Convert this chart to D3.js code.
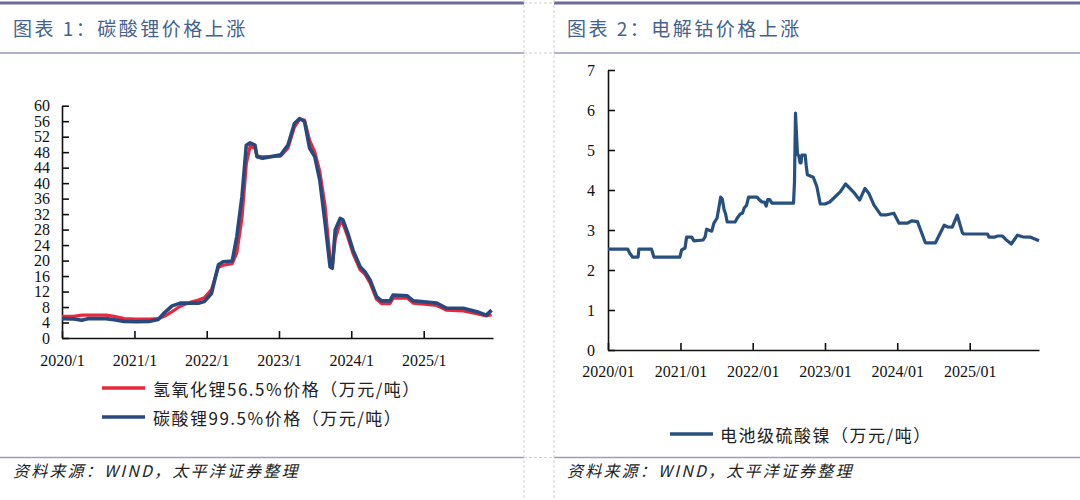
<!DOCTYPE html>
<html lang="zh">
<head>
<meta charset="UTF-8">
<title>碳酸锂 / 电解钴价格</title>
<script src="https://cdn.jsdelivr.net/npm/d3@7"></script>
<style>
  body { margin: 0; background: #fff; }
  svg { display: block; }
  .axis text { font-family: "Liberation Serif", "DejaVu Serif", serif; font-size: 16px; fill: #111; }
  .axis path, .axis line { stroke: #111; stroke-width: 1.6; }
  .title { font-family: "Noto Sans CJK SC", sans-serif; font-size: 19px; fill: #44628c; letter-spacing: 2.5px; }
  .legend { font-family: "Noto Sans CJK SC", sans-serif; font-size: 17px; fill: #222; letter-spacing: 1.5px; }
  .source { font-family: "Noto Sans CJK SC", sans-serif; font-size: 16px; font-style: italic; fill: #222; letter-spacing: 2.2px; }
</style>
</head>
<body>
<svg id="chart" width="1080" height="500"></svg>
<script>
// ---- data ----
const liDates = ["2020-01-01","2020-03-01","2020-04-10","2020-05-10","2020-08-10","2020-09-20","2020-11-10",
  "2021-01-10","2021-03-20","2021-05-01","2021-06-01","2021-07-10","2021-08-20","2021-10-10","2021-11-20","2021-12-20",
  "2022-01-25","2022-03-01","2022-03-25","2022-05-10","2022-06-02","2022-06-28","2022-07-20","2022-08-08","2022-09-02",
  "2022-09-12","2022-10-10","2023-01-10","2023-02-15","2023-03-20","2023-04-15","2023-05-10","2023-06-05","2023-07-01",
  "2023-07-26","2023-08-22","2023-09-16","2023-09-27","2023-10-12","2023-11-06","2023-11-20","2023-12-15","2024-01-10",
  "2024-02-15","2024-03-10","2024-04-05","2024-05-08","2024-06-02","2024-07-15","2024-07-30","2024-10-10","2024-11-10",
  "2025-03-08","2025-04-25","2025-07-20","2025-09-27","2025-11-13","2025-12-10"];
// 氢氧化锂56.5% (万元/吨)
const liohValues = [5.6,5.6,5.9,5.9,5.9,5.6,5.0,
  4.9,4.9,5.0,5.6,6.8,8.2,9.2,9.8,10.4,
  12.5,18.3,18.8,19.2,22.0,31.0,45.0,49.5,49.0,
  47.0,46.8,47.0,49.0,54.5,56.5,56.3,51.0,48.0,
  43.0,34.0,20.5,18.3,25.5,29.8,29.6,26.0,21.8,
  17.6,16.5,14.2,10.0,8.9,8.9,10.3,10.3,9.0,
  8.4,7.2,7.0,6.3,5.7,6.0];
// 碳酸锂99.5% (万元/吨)
const li2co3Values = [5.0,4.9,4.6,5.0,5.0,4.7,4.3,
  4.2,4.3,4.8,6.5,8.3,9.0,9.0,9.0,9.4,
  11.5,18.9,19.7,19.9,26.2,36.5,49.8,50.4,49.8,
  46.8,46.4,47.3,49.8,55.4,56.7,55.9,49.0,46.8,
  40.8,29.6,18.4,18.0,27.9,30.9,30.5,27.0,22.7,
  18.4,17.1,15.0,10.7,9.6,9.6,11.1,10.9,9.6,
  9.0,7.7,7.7,6.8,5.9,7.2];

const niDates = ["2020-01-01","2020-04-10","2020-04-20","2020-05-05","2020-06-01","2020-06-05","2020-08-08","2020-08-20",
  "2020-12-29","2021-01-07","2021-01-24","2021-02-01","2021-02-27","2021-03-10","2021-04-25","2021-05-05","2021-05-13",
  "2021-06-08","2021-06-19","2021-07-05","2021-07-23","2021-07-31","2021-08-09","2021-08-17","2021-08-25","2021-10-04",
  "2021-10-15","2021-10-30","2021-11-10","2021-11-19","2021-12-01","2021-12-11","2022-01-22","2022-02-05","2022-02-16",
  "2022-03-01","2022-03-10","2022-03-18","2022-03-28","2022-04-08","2022-07-26","2022-07-31","2022-08-05","2022-08-15",
  "2022-08-22","2022-08-28","2022-09-02","2022-09-06","2022-09-23","2022-09-28","2022-10-04","2022-11-03","2022-11-12",
  "2022-11-21","2022-12-08","2023-01-01","2023-01-25","2023-02-15","2023-03-20","2023-04-15","2023-05-05","2023-05-30",
  "2023-06-25","2023-07-22","2023-08-10","2023-09-05","2023-10-10","2023-11-10","2023-12-15","2024-01-10","2024-02-20",
  "2024-03-15","2024-04-12","2024-05-22","2024-07-12","2024-08-25","2024-09-10","2024-10-05","2024-10-30","2024-11-25",
  "2024-12-02","2025-04-01","2025-04-08","2025-05-05","2025-05-22","2025-06-15","2025-07-01","2025-07-30","2025-08-30",
  "2025-09-25","2025-11-05","2025-12-17"];
// 电池级硫酸镍 (万元/吨)
const niValues = [2.52,2.52,2.42,2.32,2.32,2.52,2.52,2.32,
  2.32,2.50,2.55,2.82,2.82,2.73,2.75,2.82,3.02,
  2.97,3.17,3.30,3.82,3.78,3.52,3.40,3.20,3.20,
  3.30,3.40,3.42,3.55,3.62,3.82,3.82,3.75,3.70,
  3.70,3.60,3.76,3.76,3.67,3.67,4.20,5.92,4.90,
  4.85,4.68,4.68,4.87,4.87,4.62,4.38,4.32,4.20,
  4.08,3.65,3.65,3.70,3.80,3.96,4.15,4.05,3.92,
  3.75,4.04,3.92,3.63,3.38,3.38,3.42,3.17,3.17,
  3.23,3.21,2.68,2.68,3.12,3.08,3.07,3.37,2.93,
  2.90,2.90,2.82,2.82,2.85,2.85,2.77,2.65,2.87,
  2.83,2.82,2.73];

const tickDates = ["2020-01-01","2021-01-01","2022-01-01","2023-01-01","2024-01-01","2025-01-01"];
const leftTickLabels = ["2020/1","2021/1","2022/1","2023/1","2024/1","2025/1"];
const rightTickLabels = ["2020/01","2021/01","2022/01","2023/01","2024/01","2025/01"];
const leftYTicks = d3.range(0, 61, 4);
const rightYTicks = d3.range(0, 8, 1);

const titles = ["图表 1：碳酸锂价格上涨", "图表 2：电解钴价格上涨"];
const sourceText = "资料来源：WIND，太平洋证券整理";
const liNames = ["氢氧化锂56.5%价格（万元/吨）", "碳酸锂99.5%价格（万元/吨）"];
const niName = "电池级硫酸镍（万元/吨）";

const parse = d3.timeParse("%Y-%m-%d");
const svg = d3.select("#chart");

// ---- frames ----
const panels = [{x0: 0, x1: 524}, {x0: 554, x1: 1080}];
panels.forEach((p, i) => {
  svg.append("line").attr("x1", p.x0).attr("x2", p.x1).attr("y1", 3).attr("y2", 3)
    .attr("stroke", "#6a6a9e").attr("stroke-width", 3);
  svg.append("line").attr("x1", p.x0).attr("x2", p.x1).attr("y1", 53).attr("y2", 53)
    .attr("stroke", "#aeb0cc").attr("stroke-width", 2);
  svg.append("line").attr("x1", p.x0).attr("x2", p.x1).attr("y1", 457.5).attr("y2", 457.5)
    .attr("stroke", "#9d9dc0").attr("stroke-width", 1.5);
  svg.append("text").attr("class", "title").attr("x", p.x0 + 13).attr("y", 36).text(titles[i]);
  svg.append("text").attr("class", "source").attr("x", p.x0 + 13).attr("y", 477).text(sourceText);
});
[524, 554].forEach(x => {
  svg.append("line").attr("x1", x).attr("x2", x).attr("y1", 0).attr("y2", 500)
    .attr("stroke", "#d0d0d0").attr("stroke-dasharray", "3,2");
});
[3, 53, 457.5].forEach(y => {
  svg.append("line").attr("x1", 524).attr("x2", 554).attr("y1", y).attr("y2", y)
    .attr("stroke", "#d0d0d0").attr("stroke-dasharray", "3,2");
});

// ---- chart 1: lithium ----
const x1 = d3.scaleTime().domain([parse("2020-01-01"), parse("2025-12-17")]).range([62, 493]);
const y1 = d3.scaleLinear().domain([0, 60]).range([338, 105.7]);

svg.append("g").attr("class", "axis").attr("transform", "translate(0,338)")
  .call(d3.axisBottom(x1).tickValues(tickDates.map(parse))
    .tickFormat((d, i) => leftTickLabels[i]).tickSizeInner(-7).tickSizeOuter(0).tickPadding(17));
svg.append("g").attr("class", "axis").attr("transform", "translate(62,0)")
  .call(d3.axisLeft(y1).tickValues(leftYTicks).tickFormat(d3.format("d"))
    .tickSizeInner(-7).tickSizeOuter(0).tickPadding(12));

const liLine = vals => d3.line()
  .x((d, i) => x1(parse(liDates[i])))
  .y(d => y1(d))(vals);

svg.append("path").attr("d", liLine(liohValues)).attr("fill", "none")
  .attr("stroke", "#e8283c").attr("stroke-width", 3.2).attr("stroke-linejoin", "round");
svg.append("path").attr("d", liLine(li2co3Values)).attr("fill", "none")
  .attr("stroke", "#28497e").attr("stroke-width", 3.6).attr("stroke-linejoin", "round");

const liColors = ["#e8283c", "#28497e"];
liNames.forEach((name, i) => {
  const ly = 388 + i * 29;
  svg.append("line").attr("x1", 102).attr("x2", 145).attr("y1", ly).attr("y2", ly)
    .attr("stroke", liColors[i]).attr("stroke-width", 3.5);
  svg.append("text").attr("class", "legend").attr("x", 153).attr("y", ly)
    .attr("dominant-baseline", "central").text(name);
});

// ---- chart 2: nickel sulphate ----
const x2 = d3.scaleTime().domain([parse("2020-01-01"), parse("2025-12-17")]).range([608, 1039]);
const y2 = d3.scaleLinear().domain([0, 7]).range([350, 70]);

svg.append("g").attr("class", "axis").attr("transform", "translate(0,350)")
  .call(d3.axisBottom(x2).tickValues(tickDates.map(parse))
    .tickFormat((d, i) => rightTickLabels[i]).tickSizeInner(-7).tickSizeOuter(0).tickPadding(16));
svg.append("g").attr("class", "axis").attr("transform", "translate(608,0)")
  .call(d3.axisLeft(y2).tickValues(rightYTicks).tickFormat(d3.format("d"))
    .tickSizeInner(-7).tickSizeOuter(0).tickPadding(13));

const niLine = d3.line()
  .x((d, i) => x2(parse(niDates[i])))
  .y(d => y2(d));
svg.append("path").attr("d", niLine(niValues)).attr("fill", "none")
  .attr("stroke", "#27507f").attr("stroke-width", 3.2).attr("stroke-linejoin", "round");

svg.append("line").attr("x1", 670).attr("x2", 713).attr("y1", 434).attr("y2", 434)
  .attr("stroke", "#27507f").attr("stroke-width", 3.5);
svg.append("text").attr("class", "legend").attr("x", 720).attr("y", 434)
  .attr("dominant-baseline", "central").text(niName);
</script>
</body>
</html>
